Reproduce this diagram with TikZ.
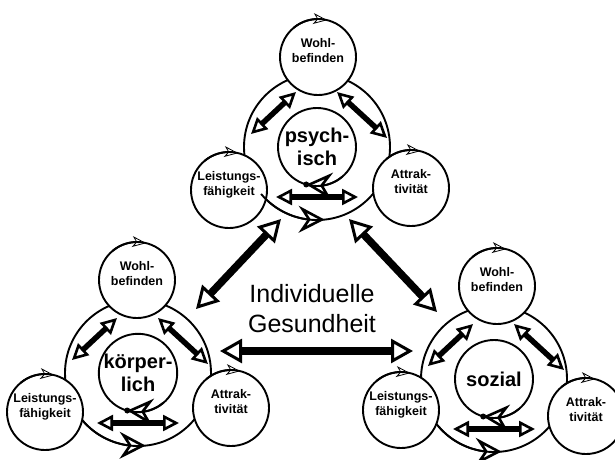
\documentclass[tikz,border=0pt]{standalone}
\usepackage{fontspec}
\setmainfont{Liberation Sans}
\usetikzlibrary{arrows.meta,bending,calc}

\begin{document}
\begin{tikzpicture}[x=1pt,y=-1pt,
  ring/.style={draw,circle,line width=1.9pt,minimum size=146pt,inner sep=0pt},
  kern/.style={draw,circle,line width=1.9pt,minimum size=78pt,inner sep=0pt,align=center,font=\bfseries\fontsize{20}{23}\selectfont},
  aspekt/.style={draw,circle,fill=white,line width=1.9pt,minimum size=76pt,inner sep=0pt,align=center,text depth=13pt,font=\bfseries\fontsize{12.5}{15}\selectfont},
  pfeil/.style={line width=5.5pt,<->,>={Triangle[open,length=16pt,width=16pt,line width=2.6pt]}},
  hauptpfeil/.style={line width=7.5pt,<->,>={Triangle[open,length=22pt,width=24pt,line width=3pt]}},
  dreh/.style={line width=1.9pt,-{Stealth[open,flex,length=14pt,width=11pt,inset=4pt,line width=0.8pt]}},
  drehgross/.style={line width=1.9pt,-{Stealth[open,flex,length=26pt,width=27pt,inset=9pt,line width=2.6pt]}}]
\useasboundingbox (0,0) rectangle (615,459);

\node[ring] (pr) at (317,147) {};
\node[ring] (kr) at (138,373) {};
\node[ring] (sr) at (494,379) {};
\node[kern] (p) at (317,147) {psych-\\isch};
\node[kern] (k) at (138,373) {körper-\\lich};
\node[kern] (s) at (494,379) {sozial};

\coordinate (p-wl) at ($(p)+(-21,-55)$);
\coordinate (p-lw) at ($(p)+(-66,-13)$);
\coordinate (p-wa) at ($(p)+(20,-55)$);
\coordinate (p-aw) at ($(p)+(70,-9)$);
\coordinate (p-la) at ($(p)+(-41,50)$);
\coordinate (p-al) at ($(p)+(41,50)$);
\coordinate (k-wl) at ($(k)+(-21,-55)$);
\coordinate (k-lw) at ($(k)+(-66,-13)$);
\coordinate (k-wa) at ($(k)+(20,-55)$);
\coordinate (k-aw) at ($(k)+(70,-9)$);
\coordinate (k-la) at ($(k)+(-41,50)$);
\coordinate (k-al) at ($(k)+(41,50)$);
\coordinate (s-wl) at ($(s)+(-21,-55)$);
\coordinate (s-lw) at ($(s)+(-66,-13)$);
\coordinate (s-wa) at ($(s)+(20,-55)$);
\coordinate (s-aw) at ($(s)+(70,-9)$);
\coordinate (s-la) at ($(s)+(-41,50)$);
\coordinate (s-al) at ($(s)+(41,50)$);

\draw[pfeil] (p-wl) -- (p-lw);
\draw[pfeil] (p-wa) -- (p-aw);
\draw[pfeil] (p-la) -- (p-al);
\draw[pfeil] (k-wl) -- (k-lw);
\draw[pfeil] (k-wa) -- (k-aw);
\draw[pfeil] (k-la) -- (k-al);
\draw[pfeil] (s-wl) -- (s-lw);
\draw[pfeil] (s-wa) -- (s-aw);
\draw[pfeil] (s-la) -- (s-al);

\node[aspekt] (pw) at (318,57) {Wohl-\\befinden};
\node[aspekt] (pl) at (229,190) {Leistungs-\\fähigkeit};
\node[aspekt] (pa) at (411,188) {Attrak-\\tivität};
\node[aspekt] (kw) at (137,280) {Wohl-\\befinden};
\node[aspekt] (kl) at (45,412) {Leistungs-\\fähigkeit};
\node[aspekt] (ka) at (231,408) {Attrak-\\tivität};
\node[aspekt] (sw) at (497,286) {Wohl-\\befinden};
\node[aspekt] (sl) at (401,410) {Leistungs-\\fähigkeit};
\node[aspekt] (sa) at (586,416) {Attrak-\\tivität};

\draw[dreh] ($(pw)+(-130:38)$) arc[start angle=-130,end angle=-76,radius=38];
\draw[dreh] ($(pl)+(-130:38)$) arc[start angle=-130,end angle=-76,radius=38];
\draw[dreh] ($(pa)+(-130:38)$) arc[start angle=-130,end angle=-76,radius=38];
\draw[dreh] ($(kw)+(-130:38)$) arc[start angle=-130,end angle=-76,radius=38];
\draw[dreh] ($(kl)+(-130:38)$) arc[start angle=-130,end angle=-76,radius=38];
\draw[dreh] ($(ka)+(-130:38)$) arc[start angle=-130,end angle=-76,radius=38];
\draw[dreh] ($(sw)+(-130:38)$) arc[start angle=-130,end angle=-76,radius=38];
\draw[dreh] ($(sl)+(-130:38)$) arc[start angle=-130,end angle=-76,radius=38];
\draw[dreh] ($(sa)+(-130:38)$) arc[start angle=-130,end angle=-76,radius=38];

\draw[drehgross] ($(p)+(50:39)$) arc[start angle=50,end angle=106,radius=39];
\draw[drehgross] ($(k)+(50:39)$) arc[start angle=50,end angle=106,radius=39];
\draw[drehgross] ($(s)+(50:39)$) arc[start angle=50,end angle=106,radius=39];
\fill ($(p)+(106:39)$) circle (3);
\fill ($(k)+(106:39)$) circle (3);
\fill ($(s)+(106:39)$) circle (3);
\draw[drehgross] ($(pr)+(140:73)$) arc[start angle=140,end angle=84,radius=73];
\draw[drehgross] ($(kr)+(140:73)$) arc[start angle=140,end angle=84,radius=73];
\draw[drehgross] ($(sr)+(140:73)$) arc[start angle=140,end angle=84,radius=73];

\coordinate (pk-a) at (281,219);
\coordinate (pk-b) at (196,309);
\coordinate (ps-a) at (349,219);
\coordinate (ps-b) at (437,312);
\coordinate (ks-a) at (220,351);
\coordinate (ks-b) at (413,351);
\draw[hauptpfeil] (pk-a) -- (pk-b);
\draw[hauptpfeil] (ps-a) -- (ps-b);
\draw[hauptpfeil] (ks-a) -- (ks-b);

\node[align=center,inner sep=0pt,font=\fontsize{25}{30}\selectfont] (titel) at (312,309) {Individuelle\\Gesundheit};
\end{tikzpicture}
\end{document}
